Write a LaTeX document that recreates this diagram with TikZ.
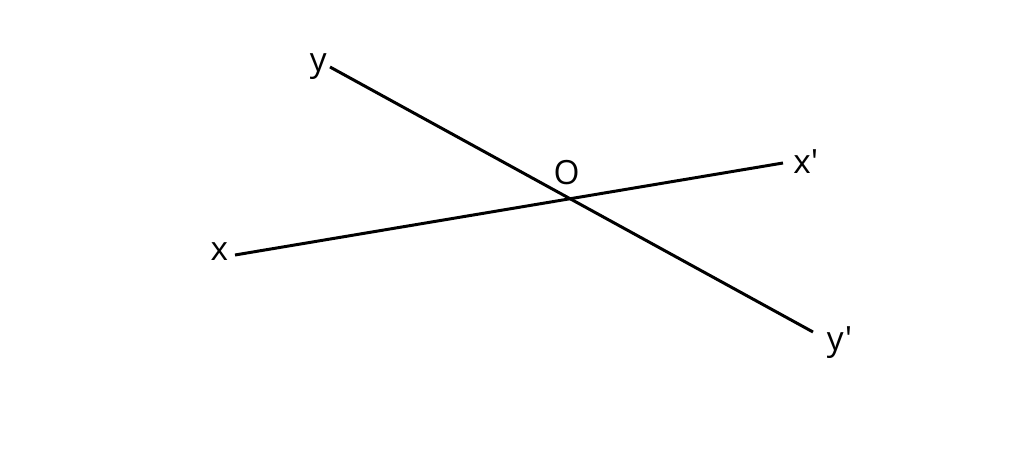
\documentclass[tikz,border=0pt]{standalone}
\usepackage{fontspec}
\newfontfamily\lblfont{Open Sans}
\usetikzlibrary{positioning}

\begin{document}
\begin{tikzpicture}[x=0.02cm,y=-0.02cm,line width=1.7pt]
          \tikzset{lbl/.style={font=\lblfont\fontsize{19}{22}\selectfont,inner sep=1pt}}
          \useasboundingbox (0,0) rectangle (1024,469);
          \coordinate (xa) at (235,255);
          \coordinate (xb) at (783,163);
          \coordinate (ya) at (330,67);
          \coordinate (yb) at (813,332);
          \coordinate (O) at (intersection of xa--xb and ya--yb);
          \draw (xa) -- (xb);
          \draw (ya) -- (yb);
          \node[lbl,left=2pt of xa,yshift=2pt] (lx) {x};
          \node[lbl,right=4pt of xb,yshift=1pt] (lxp) {x'};
          \node[lbl,left=0pt of ya] (ly) {y};
          \node[lbl,right=6pt of yb,yshift=-6pt] (lyp) {y'};
          \node[lbl,above=6pt of O,xshift=-2pt] (lO) {O};
      \end{tikzpicture}
\end{document}
